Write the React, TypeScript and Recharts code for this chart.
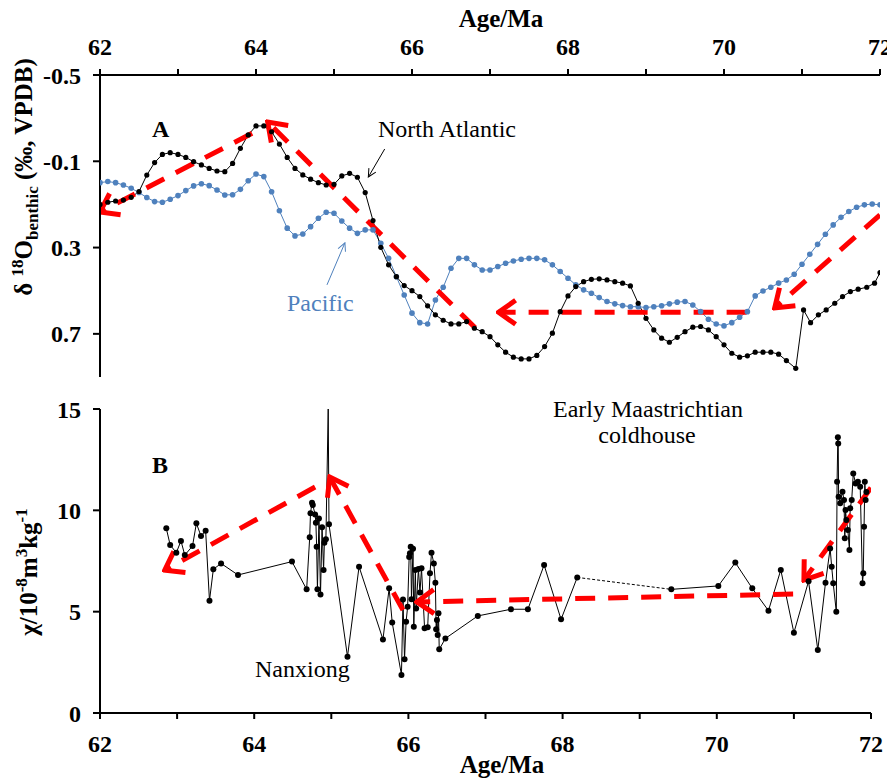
import React from "react";
import { Line, LineChart, XAxis, YAxis } from "recharts";

// benthic d18O, North Atlantic [age Ma, permil]
const northAtlantic: [number, number][] = [
  [62.0, 0.1], [62.1, 0.09], [62.2, 0.084], [62.3, 0.08], [62.4, 0.067], [62.5, 0.04], [62.6, -0.036], [62.7, -0.094],
  [62.8, -0.132], [62.9, -0.14], [63.0, -0.132], [63.1, -0.118], [63.2, -0.098], [63.3, -0.083], [63.4, -0.067],
  [63.5, -0.055], [63.6, -0.052], [63.7, -0.09], [63.8, -0.16], [63.9, -0.222], [64.0, -0.264], [64.1, -0.264],
  [64.2, -0.237], [64.3, -0.18], [64.4, -0.118], [64.5, -0.067], [64.6, -0.037], [64.7, -0.017], [64.8, -0.001],
  [64.9, 0.01], [65.0, 0.007], [65.1, -0.032], [65.2, -0.044], [65.3, -0.026], [65.4, 0.045], [65.5, 0.175],
  [65.6, 0.299], [65.7, 0.38], [65.8, 0.435], [65.9, 0.476], [66.0, 0.5], [66.1, 0.527], [66.2, 0.57], [66.3, 0.612],
  [66.4, 0.637], [66.5, 0.654], [66.6, 0.654], [66.7, 0.643], [66.8, 0.674], [66.9, 0.69], [67.0, 0.713],
  [67.1, 0.751], [67.2, 0.785], [67.3, 0.808], [67.4, 0.816], [67.5, 0.816], [67.6, 0.8], [67.7, 0.759],
  [67.8, 0.697], [67.9, 0.597], [68.0, 0.524], [68.1, 0.481], [68.2, 0.458], [68.3, 0.447], [68.4, 0.445],
  [68.5, 0.45], [68.6, 0.458], [68.7, 0.465], [68.8, 0.478], [68.9, 0.558], [69.0, 0.628], [69.1, 0.682],
  [69.2, 0.72], [69.3, 0.739], [69.4, 0.716], [69.5, 0.69], [69.6, 0.669], [69.7, 0.666], [69.8, 0.682],
  [69.9, 0.713], [70.0, 0.751], [70.1, 0.79], [70.2, 0.808], [70.3, 0.802], [70.4, 0.785], [70.5, 0.785],
  [70.6, 0.785], [70.7, 0.794], [70.8, 0.824], [70.92, 0.86], [71.02, 0.589], [71.11, 0.648], [71.21, 0.612],
  [71.31, 0.589], [71.42, 0.558], [71.52, 0.527], [71.62, 0.504], [71.72, 0.493], [71.83, 0.484], [71.93, 0.465],
  [72.0, 0.416],
];

// benthic d18O, Pacific
const pacific: [number, number][] = [
  [62.0, -0.001], [62.1, -0.006], [62.2, -0.001], [62.3, 0.01], [62.4, 0.025], [62.5, 0.045], [62.6, 0.068],
  [62.7, 0.087], [62.8, 0.09], [62.9, 0.076], [63.0, 0.059], [63.1, 0.036], [63.2, 0.014], [63.3, 0.004],
  [63.4, 0.013], [63.5, 0.033], [63.6, 0.056], [63.7, 0.055], [63.8, 0.03], [63.9, -0.01], [64.0, -0.041],
  [64.1, -0.029], [64.2, 0.041], [64.3, 0.129], [64.4, 0.21], [64.5, 0.246], [64.6, 0.237], [64.7, 0.203],
  [64.8, 0.164], [64.9, 0.136], [65.0, 0.141], [65.1, 0.177], [65.2, 0.21], [65.3, 0.234], [65.4, 0.218],
  [65.5, 0.218], [65.6, 0.28], [65.7, 0.35], [65.8, 0.435], [65.9, 0.52], [66.0, 0.604], [66.1, 0.648],
  [66.2, 0.654], [66.3, 0.543], [66.4, 0.484], [66.5, 0.396], [66.6, 0.35], [66.7, 0.35], [66.8, 0.38],
  [66.9, 0.404], [67.0, 0.404], [67.1, 0.388], [67.2, 0.373], [67.3, 0.362], [67.4, 0.354], [67.5, 0.35],
  [67.6, 0.35], [67.7, 0.357], [67.8, 0.38], [67.9, 0.411], [68.0, 0.442], [68.1, 0.473], [68.2, 0.496],
  [68.3, 0.512], [68.4, 0.532], [68.5, 0.55], [68.6, 0.561], [68.7, 0.569], [68.8, 0.574], [68.9, 0.574],
  [69.0, 0.578], [69.1, 0.574], [69.2, 0.57], [69.3, 0.561], [69.4, 0.553], [69.5, 0.55], [69.6, 0.566],
  [69.7, 0.597], [69.8, 0.632], [69.9, 0.654], [70.0, 0.663], [70.1, 0.648], [70.2, 0.623], [70.3, 0.597],
  [70.4, 0.524], [70.5, 0.501], [70.6, 0.484], [70.7, 0.465], [70.8, 0.45], [70.9, 0.424], [71.0, 0.377],
  [71.1, 0.331], [71.2, 0.285], [71.3, 0.238], [71.4, 0.195], [71.5, 0.16], [71.6, 0.133], [71.7, 0.113],
  [71.8, 0.102], [71.9, 0.098], [72.0, 0.102],
];

// magnetic susceptibility, Nanxiong (two runs with a gap between)
const nanxiongA: [number, number][] = [
  [62.86, 9.11], [62.91, 8.29], [62.99, 7.91], [63.05, 8.49], [63.1, 7.79], [63.2, 8.24], [63.25, 9.36],
  [63.31, 8.73], [63.37, 8.99], [63.42, 5.54], [63.47, 7.09], [63.57, 7.38], [63.79, 6.81], [64.49, 7.47],
  [64.68, 6.1], [64.72, 8.67], [64.73, 9.85], [64.75, 10.38], [64.76, 10.26], [64.79, 9.8], [64.8, 9.39],
  [64.81, 8.2], [64.82, 6.1], [64.84, 9.6], [64.86, 5.85], [64.88, 9.16], [64.9, 7.05], [64.91, 8.4],
  [64.93, 8.57], [64.96, 15], [64.97, 9.31], [65.21, 2.78], [65.36, 7.22], [65.67, 3.63], [65.75, 6.15],
  [65.79, 4.46], [65.91, 1.88], [65.93, 5.6], [65.95, 2.65], [65.97, 4.5], [65.99, 5.24], [66.01, 7.7],
  [66.02, 7.88], [66.03, 8.2], [66.04, 5.61], [66.06, 8.1], [66.07, 4.26], [66.09, 7.05], [66.1, 5.16],
  [66.13, 7.1], [66.15, 5.94], [66.17, 7.14], [66.21, 4.18], [66.25, 4.23], [66.28, 6.9], [66.3, 7.91],
  [66.33, 7.38], [66.35, 6.43], [66.36, 4.13], [66.37, 4.59], [66.38, 3.85], [66.39, 4.92], [66.4, 3.14],
  [66.48, 3.68], [66.9, 4.79], [67.33, 5.12], [67.55, 5.12], [67.76, 7.3], [67.98, 4.62], [68.19, 6.69],
];
const nanxiongB: [number, number][] = [
  [69.41, 6.1], [70.02, 6.27], [70.24, 7.42], [70.46, 6.15], [70.67, 5.05], [70.83, 7.06], [71.0, 3.96],
  [71.19, 6.5], [71.31, 3.11], [71.41, 6.43], [71.47, 8.12], [71.49, 7.22], [71.51, 6.4], [71.55, 5.0],
  [71.56, 11.41], [71.57, 13.6], [71.575, 13.3], [71.58, 10.67], [71.6, 10.35], [71.63, 10.92], [71.65, 10.51],
  [71.66, 8.62], [71.67, 10.02], [71.68, 9.52], [71.7, 9.03], [71.72, 8.04], [71.73, 10.1], [71.75, 10.51],
  [71.77, 11.82], [71.8, 11.33], [71.83, 11.41], [71.86, 11.16], [71.89, 6.4], [71.9, 6.89], [71.91, 9.19],
  [71.92, 11.41], [71.93, 10.51], [71.94, 10.9],
];
const nanxiongGap: [number, number][] = [[68.19, 6.69], [69.41, 6.1]];

// trend arrows, tail -> tip
const trendsTop: [number, number][][] = [
  [[63.95, -0.23], [62.0, 0.135]],
  [[66.81, 0.672], [64.15, -0.282]],
  [[70.29, 0.6], [67.11, 0.6]],
  [[72.0, 0.149], [70.65, 0.58]],
];
const trendsBottom: [number, number][][] = [
  [[64.79, 11.15], [62.84, 7.05]],
  [[65.93, 5.08], [64.98, 11.64]],
  [[70.99, 5.87], [66.11, 5.48]],
  [[72.0, 11.11], [71.13, 6.56]],
];
const naPointer: [number, number][] = [[65.65, -0.157], [65.44, -0.027]];
const pacPointer: [number, number][] = [[64.91, 0.473], [65.14, 0.278]];

const ageTicks = [62, 63, 64, 65, 66, 67, 68, 69, 70, 71, 72];
const d18Ticks = [-0.5, -0.1, 0.3, 0.7];
const chiTicks = [0, 5, 10, 15];

const rows = (pts: [number, number][]) => pts.map(([x, y]) => ({ x, y }));

const FONT = "'Liberation Serif', 'Times New Roman', Tinos, 'DejaVu Serif', serif";
const BLUE = "#4F81BD";
const RED = "#FF0000";
const tickStyle = { fontSize: 24, fontWeight: "bold", fill: "#000", fontFamily: FONT };
const axisStroke = { stroke: "#000", strokeWidth: 2 };
const ageFmt = (v: number) => (Math.round(v) % 2 === 0 ? String(v) : "");
const txt = { fontFamily: FONT };

const nxDot = (p: any) =>
  p.value >= 15 ? (
    <g key={`s-${p.index}`} />
  ) : (
    <circle key={`d-${p.index}`} cx={p.cx} cy={p.cy} r={3} fill="#000" />
  );

export default function App() {
  return (
    <div style={{ position: "relative", width: 887, height: 776, fontFamily: FONT }}>
      <svg width={0} height={0} style={{ position: "absolute" }}>
        <defs>
          <marker id="redHead" viewBox="0 0 30 30" refX={27} refY={15} markerWidth={30} markerHeight={30}
            markerUnits="userSpaceOnUse" orient="auto">
            <path d="M 10 3 L 27 15 L 10 27" fill="none" stroke={RED} strokeWidth={5} />
          </marker>
          <marker id="blackHead" viewBox="0 0 10 10" refX={9} refY={5} markerWidth={10} markerHeight={10}
            markerUnits="userSpaceOnUse" orient="auto">
            <path d="M 1 1 L 9 5 L 1 9" fill="none" stroke="#000" strokeWidth={1} />
          </marker>
          <marker id="blueHead" viewBox="0 0 10 10" refX={9} refY={5} markerWidth={10} markerHeight={10}
            markerUnits="userSpaceOnUse" orient="auto">
            <path d="M 1 1 L 9 5 L 1 9" fill="none" stroke={BLUE} strokeWidth={1} />
          </marker>
        </defs>
      </svg>

      <div style={{ position: "absolute", left: 0, top: -8 }}>
        <LineChart width={887} height={390} margin={{ top: 8, right: 15, bottom: 13, left: 0 }}>
          <XAxis type="number" dataKey="x" orientation="top" height={67} domain={[62, 72]} ticks={ageTicks}
            allowDataOverflow tickFormatter={ageFmt} tick={tickStyle} axisLine={axisStroke} tickLine={axisStroke}
            tickSize={6} tickMargin={14} interval={0} />
          <YAxis type="number" dataKey="y" width={92} domain={[-0.5, 0.9]} reversed ticks={d18Ticks}
            allowDataOverflow tick={tickStyle} axisLine={axisStroke} tickLine={axisStroke} tickSize={7}
            tickMargin={12} interval={0} />
          <Line data={rows(pacific)} dataKey="y" type="linear" stroke={BLUE} strokeWidth={1}
            dot={{ r: 2.8, fill: BLUE, stroke: "none" }} activeDot={false} isAnimationActive={false} />
          <Line data={rows(northAtlantic)} dataKey="y" type="linear" stroke="#000" strokeWidth={1}
            dot={{ r: 2.6, fill: "#000", stroke: "none" }} activeDot={false} isAnimationActive={false} />
          {trendsTop.map((seg, i) => (
            <Line key={`tt${i}`} data={rows(seg)} dataKey="y" type="linear" stroke={RED} strokeWidth={5}
              strokeDasharray="20 13" dot={false} activeDot={false} markerEnd="url(#redHead)"
              isAnimationActive={false} />
          ))}
          <Line data={rows(naPointer)} dataKey="y" stroke="#000" strokeWidth={1} dot={false} activeDot={false}
            markerEnd="url(#blackHead)" isAnimationActive={false} />
          <Line data={rows(pacPointer)} dataKey="y" stroke={BLUE} strokeWidth={1} dot={false} activeDot={false}
            markerEnd="url(#blueHead)" isAnimationActive={false} />
          <text x={493} y={27} textAnchor="middle" fontSize={25} fontWeight="bold" style={txt}>Age/Ma</text>
          <text x={144} y={137} fontSize={24} fontWeight="bold" style={txt}>A</text>
          <text x={370} y={137} fontSize={24} style={txt}>North Atlantic</text>
          <text x={279} y={311} fontSize={24} style={txt} fill={BLUE}>Pacific</text>
          <text x={24} y={177} transform="rotate(-90 24 177)" textAnchor="middle" fontSize={25} fontWeight="bold"
            style={txt}>
            {"δ "}
            <tspan fontSize={17} dy={-9}>18</tspan>
            <tspan dy={9}>O</tspan>
            <tspan fontSize={17} dy={6}>benthic</tspan>
            <tspan dy={-6}>{" (‰, VPDB)"}</tspan>
          </text>
        </LineChart>
      </div>

      <div style={{ position: "absolute", left: 0, top: 382 }}>
        <LineChart width={887} height={394} margin={{ top: 19, right: 24, bottom: 0, left: 0 }}>
          <XAxis type="number" dataKey="x" height={71} domain={[62, 72]} ticks={ageTicks} allowDataOverflow
            tickFormatter={ageFmt} tick={tickStyle} axisLine={axisStroke} tickLine={axisStroke} tickSize={6}
            tickMargin={16} interval={0} />
          <YAxis type="number" dataKey="y" width={92} domain={[0, 15]} ticks={chiTicks} allowDataOverflow
            tick={tickStyle} axisLine={axisStroke} tickLine={axisStroke} tickSize={7} tickMargin={12}
            interval={0} />
          <Line data={rows(nanxiongGap)} dataKey="y" stroke="#000" strokeWidth={1} strokeDasharray="3 2"
            dot={false} activeDot={false} isAnimationActive={false} />
          <Line data={rows(nanxiongA)} dataKey="y" stroke="#000" strokeWidth={1} dot={nxDot} activeDot={false}
            isAnimationActive={false} />
          <Line data={rows(nanxiongB)} dataKey="y" stroke="#000" strokeWidth={1} dot={nxDot} activeDot={false}
            isAnimationActive={false} />
          {trendsBottom.map((seg, i) => (
            <Line key={`tb${i}`} data={rows(seg)} dataKey="y" type="linear" stroke={RED} strokeWidth={5}
              strokeDasharray="20 13" dot={false} activeDot={false} markerEnd="url(#redHead)"
              isAnimationActive={false} />
          ))}
          <text x={494} y={383} textAnchor="middle" fontSize={25} fontWeight="bold" style={txt}>Age/Ma</text>
          <text x={144} y={83} fontSize={24} fontWeight="bold" style={txt}>B</text>
          <text x={247} y={287} fontSize={24} style={txt}>Nanxiong</text>
          <text x={640} y={27} textAnchor="middle" fontSize={24} style={txt}>Early Maastrichtian</text>
          <text x={639} y={53} textAnchor="middle" fontSize={24} style={txt}>coldhouse</text>
          <text x={29} y={182} transform="rotate(-90 29 182)" textAnchor="middle" fontSize={25} fontWeight="bold"
            style={txt}>
            {"χ/10"}
            <tspan fontSize={17} dy={-10}>-8</tspan>
            <tspan dy={10}>m</tspan>
            <tspan fontSize={17} dy={-10}>3</tspan>
            <tspan dy={10}>kg</tspan>
            <tspan fontSize={17} dy={-10}>-1</tspan>
          </text>
        </LineChart>
      </div>
    </div>
  );
}
